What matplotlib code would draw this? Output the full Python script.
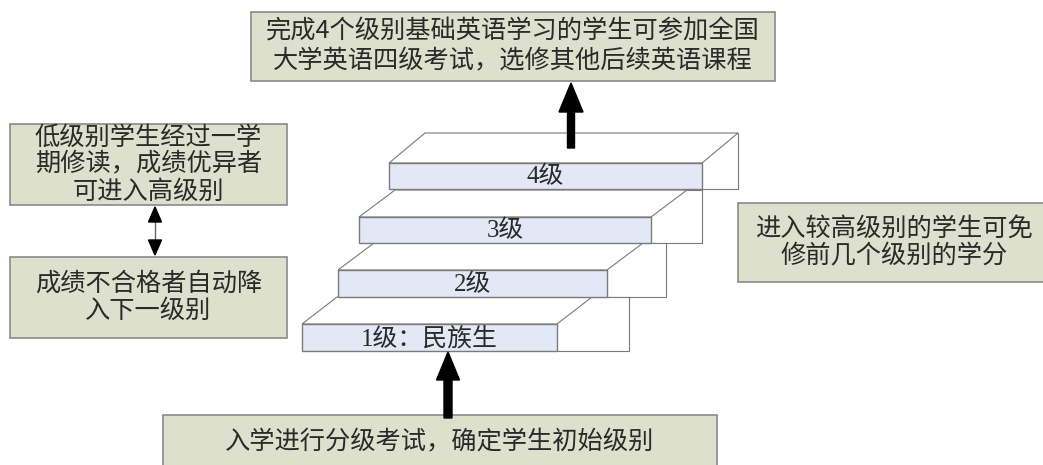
import matplotlib
matplotlib.use("Agg")
import matplotlib.pyplot as plt
from matplotlib.patches import Rectangle, Polygon, FancyArrow

plt.rcParams['font.family'] = ['Noto Sans CJK SC', 'DejaVu Sans']

# ---- content ----
step_labels = ["1级：民族生", "2级", "3级", "4级"]
top_text = ["完成4个级别基础英语学习的学生可参加全国", "大学英语四级考试，选修其他后续英语课程"]
left_top_text = ["低级别学生经过一学", "期修读，成绩优异者", "可进入高级别"]
left_bottom_text = ["成绩不合格者自动降", "入下一级别"]
right_text = ["进入较高级别的学生可免", "修前几个级别的学分"]
bottom_text = ["入学进行分级考试，确定学生初始级别"]

# ---- layout (pixel coordinates) ----
W, H = 1043, 465
# front face: x0, x1, ytop, ybot ; side x ; back y ; depth dx
steps_geom = [
    (302, 557, 324, 351, 629, 297, 35),
    (338, 607, 270, 297, 666, 243, 36),
    (359, 651, 217, 243, 702, 190, 36),
    (389, 702, 163, 189, 738, 133, 36),
]
BOX_FILL = "#dde0cc"
BOX_EDGE = "#8a8a8a"
STEP_FILL = "#e2e8f5"
STEP_EDGE = "#7a7a7a"
TXT = "#2a2a2a"
FS = 18.2

fig = plt.figure(figsize=(W / 100, H / 100), dpi=100)
ax = fig.add_axes([0, 0, 1, 1])
ax.set_xlim(0, W)
ax.set_ylim(H, 0)
ax.axis("off")


def text_box(x0, y0, x1, y1, lines, spacing, yc=None):
    ax.add_patch(Rectangle((x0, y0), x1 - x0, y1 - y0, facecolor=BOX_FILL,
                           edgecolor=BOX_EDGE, lw=1.2, zorder=2))
    xc = (x0 + x1) / 2
    if yc is None:
        yc = (y0 + y1) / 2
    n = len(lines)
    for i, s in enumerate(lines):
        y = yc + (i - (n - 1) / 2) * spacing
        ax.text(xc, y, s, ha="center", va="center", fontsize=FS, color=TXT, zorder=3)


# steps (back to front)
for (x0, x1, yt, yb, xs, yk, dx), lab in reversed(list(zip(steps_geom, step_labels))):
    side = Polygon([(x1, yt), (x1 + dx, yk), (xs, yk), (xs, yb), (x1, yb)],
                   closed=True, facecolor="white", edgecolor="none", zorder=1)
    ax.add_patch(side)
    top = Polygon([(x0, yt), (x1, yt), (x1 + dx, yk), (x0 + dx, yk)], closed=True,
                  facecolor="white", edgecolor=STEP_EDGE, lw=0.8, zorder=1)
    ax.add_patch(top)
    ax.plot([xs, xs, x1], [yk, yb, yb], color=STEP_EDGE, lw=0.8, zorder=1)
    if xs > x1 + dx:
        ax.plot([x1 + dx, xs], [yk, yk], color=STEP_EDGE, lw=0.8, zorder=1)
    ax.add_patch(Rectangle((x0, yt), x1 - x0, yb - yt, facecolor=STEP_FILL,
                           edgecolor=STEP_EDGE, lw=1.0, zorder=2))
    ax.text((x0 + x1) / 2, (yt + yb) / 2 + 1, lab, ha="center", va="center",
            fontsize=FS - 0.3, color=TXT, zorder=3,
            family=['Liberation Serif', 'Noto Sans CJK SC'])

# text boxes
text_box(251, 12, 775, 81, top_text, 29)
text_box(10, 124, 287, 205, left_top_text, 27)
text_box(10, 257, 287, 338, left_bottom_text, 27)
text_box(738, 203, 1050, 282, right_text, 28)
text_box(163, 415, 717, 480, bottom_text, 28, yc=442)

# arrows
ax.add_patch(FancyArrow(448, 418, 0, -66, width=8, head_width=23, head_length=28,
                        length_includes_head=True, color="black", zorder=4))
ax.add_patch(FancyArrow(571, 148, 0, -65, width=7, head_width=24, head_length=29,
                        length_includes_head=True, color="black", zorder=4))
# double arrow
ax.plot([155, 155], [220, 242], color="#666666", lw=1, zorder=4)
ax.add_patch(Polygon([(155, 207), (148.5, 222), (161.5, 222)], closed=True,
                     color="black", zorder=4))
ax.add_patch(Polygon([(155, 255), (148.5, 240), (161.5, 240)], closed=True,
                     color="black", zorder=4))

fig.savefig("out.png", dpi=100)
